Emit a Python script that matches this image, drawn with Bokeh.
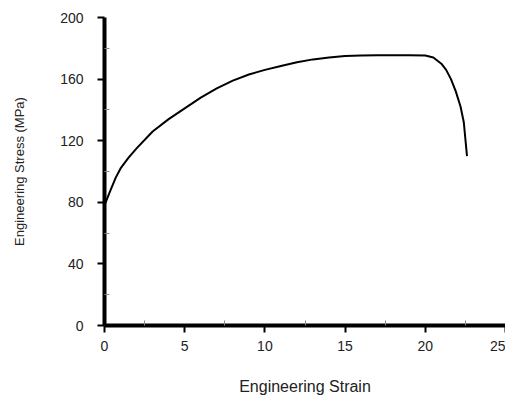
from bokeh.plotting import figure
from bokeh.embed import file_html
from bokeh.resources import INLINE
from bokeh.models import FixedTicker

strain = [0, 0.3, 0.7, 1, 1.5, 2, 3, 4, 5, 6, 7, 8, 9, 10, 11, 12, 13, 14, 15, 16, 17, 18, 19, 20, 20.5, 21, 21.3, 21.6, 21.9, 22.2, 22.4, 22.6]
stress = [78, 86, 96, 102, 109, 115, 126, 134, 141, 148, 154, 159, 163, 166, 168.5, 171, 172.8, 174, 175, 175.3, 175.5, 175.5, 175.5, 175.3, 174, 170, 166, 160, 152, 142, 132, 110]

p = figure(width=505, height=397, output_backend="svg", toolbar_location=None,
           x_range=(0, 25), y_range=(0, 200),
           min_border_left=104, min_border_right=0, min_border_top=17, min_border_bottom=72)
p.outline_line_color = None
p.grid.visible = False
p.line(strain, stress, line_color="black", line_width=2)

for ax, ticks, minor in ((p.xaxis[0], [0, 5, 10, 15, 20, 25], [2.5, 7.5, 12.5, 17.5, 22.5]),
                         (p.yaxis[0], [0, 40, 80, 120, 160, 200], [20, 60, 100, 140, 180])):
    ax.ticker = FixedTicker(ticks=ticks, minor_ticks=minor)
    ax.axis_line_width = 4
    ax.axis_line_color = "black"
    ax.major_tick_line_width = 2
    ax.major_tick_out = 7
    ax.major_tick_in = 0
    ax.minor_tick_out = 0
    ax.minor_tick_in = 5
    ax.minor_tick_line_color = "#888888"
    ax.major_label_text_font = "Liberation Sans"
    ax.major_label_text_font_size = "14px"
    ax.major_label_text_color = "#222222"
    ax.axis_label_text_font = "Liberation Sans"
    ax.axis_label_text_font_style = "normal"
    ax.axis_label_text_color = "#222222"

p.xaxis.axis_label = "Engineering Strain"
p.xaxis.axis_label_text_font_size = "16px"
p.xaxis.axis_label_standoff = 24
p.yaxis.axis_label = "Engineering Stress (MPa)"
p.yaxis.axis_label_text_font_size = "13px"
p.yaxis.axis_label_standoff = 30
p.xaxis.major_label_standoff = 8
p.yaxis.major_label_standoff = 14

open("out.html", "w").write(file_html(p, INLINE))
